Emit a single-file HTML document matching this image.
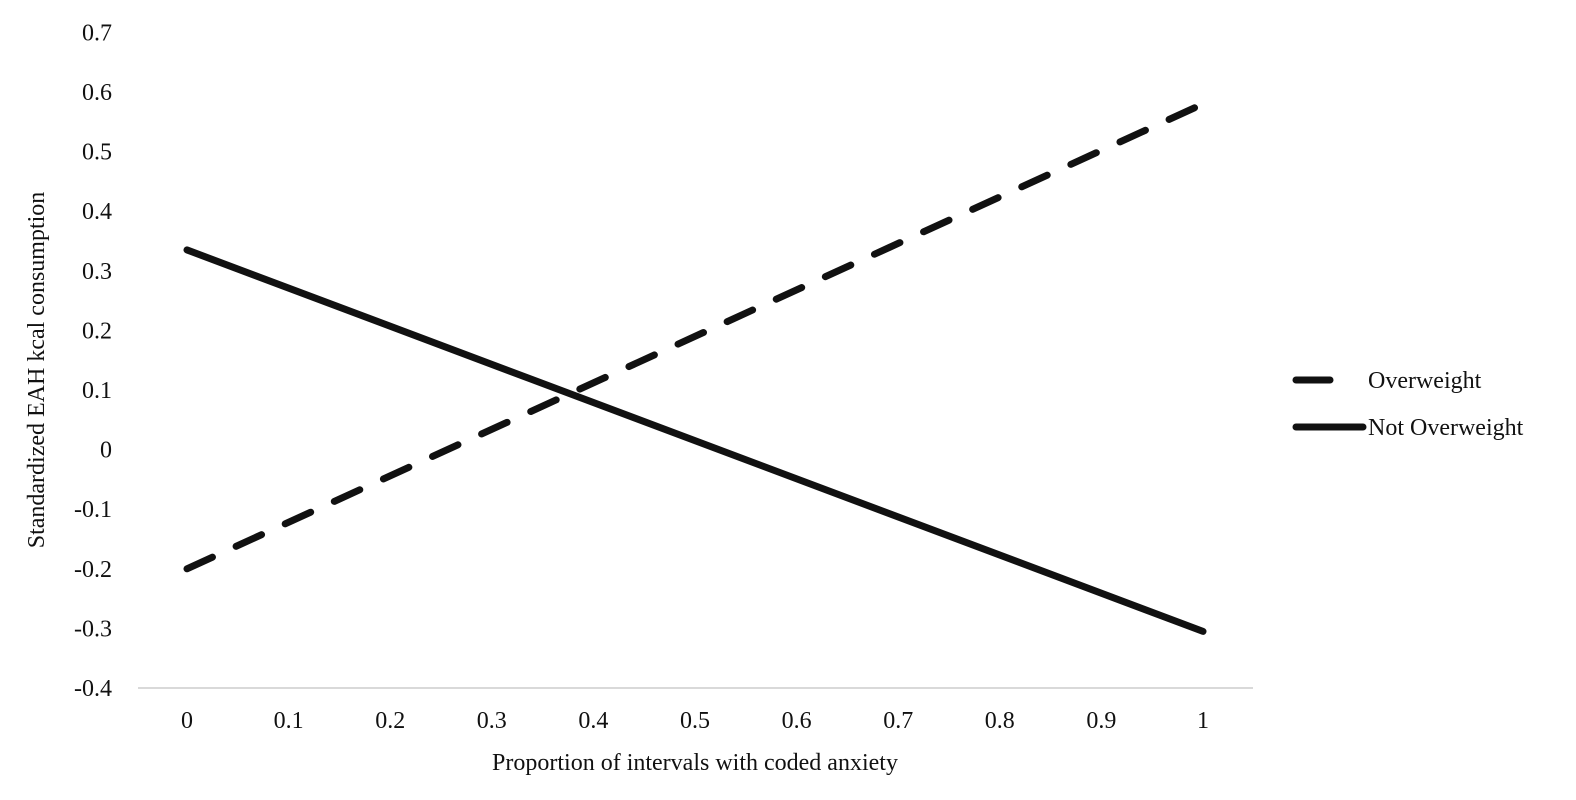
<!DOCTYPE html>
<html><head><meta charset="utf-8"><style>
html,body{margin:0;padding:0;background:#fff;}
svg{display:block;font-family:"Liberation Serif",serif;}
</style></head><body>
<svg id="chart" width="1576" height="800">
<g id="axes"></g><g id="series"></g>
<text x="44" y="370" font-size="24" fill="#111" text-anchor="middle" transform="rotate(-90 44 370)">Standardized EAH kcal consumption</text>
<text x="695" y="770" font-size="24" fill="#111" text-anchor="middle">Proportion of intervals with coded anxiety</text>
<g>
<line x1="1296" y1="380" x2="1330" y2="380" stroke="#111" stroke-width="7" stroke-linecap="round"/>
<text x="1368" y="388" font-size="24" fill="#111">Overweight</text>
<line x1="1296" y1="427" x2="1363" y2="427" stroke="#111" stroke-width="7" stroke-linecap="round"/>
<text x="1368" y="435" font-size="24" fill="#111">Not Overweight</text>
</g>
</svg>
<script>
const xCategories = [0, 1];
const overweight = [-0.2, 0.58];
const notOverweight = [0.335, -0.305];
const yTicks = [0.7, 0.6, 0.5, 0.4, 0.3, 0.2, 0.1, 0, -0.1, -0.2, -0.3, -0.4];
const xTicks = [0, 0.1, 0.2, 0.3, 0.4, 0.5, 0.6, 0.7, 0.8, 0.9, 1];
const NS = 'http://www.w3.org/2000/svg';
function xs(v){ return 187 + v * 1016; }
function ys(v){ return 688 - (v + 0.4) * 596; }
const axes = document.getElementById('axes');
const series = document.getElementById('series');
function mk(tag, attrs, parent){ const e = document.createElementNS(NS, tag); for (const k in attrs) e.setAttribute(k, attrs[k]); parent.appendChild(e); return e; }
const axisLine = mk('line', {x1:138, x2:1253, y1:ys(-0.4), y2:ys(-0.4), stroke:'#d9d9d9', 'stroke-width':2}, axes);


yTicks.forEach(function(t){
  const e = mk('text', {x:112, y:ys(t) + 8, 'font-size':24, fill:'#111', 'text-anchor':'end'}, axes);
  e.textContent = String(t);
  
  
});
xTicks.forEach(function(t){
  const e = mk('text', {x:xs(t), y:728, 'font-size':24, fill:'#111', 'text-anchor':'middle'}, axes);
  e.textContent = String(t);
  
  
});
function pts(vals){ return vals.map(function(v,i){ return xs(xCategories[i]) + ',' + ys(v); }).join(' '); }
const l1 = mk('polyline', {points:pts(overweight), fill:'none', stroke:'#111', 'stroke-width':7, 'stroke-linecap':'round', 'stroke-dasharray':'28 26'}, series);


const l2 = mk('polyline', {points:pts(notOverweight), fill:'none', stroke:'#111', 'stroke-width':7, 'stroke-linecap':'round'}, series);


</script>
</body></html>
